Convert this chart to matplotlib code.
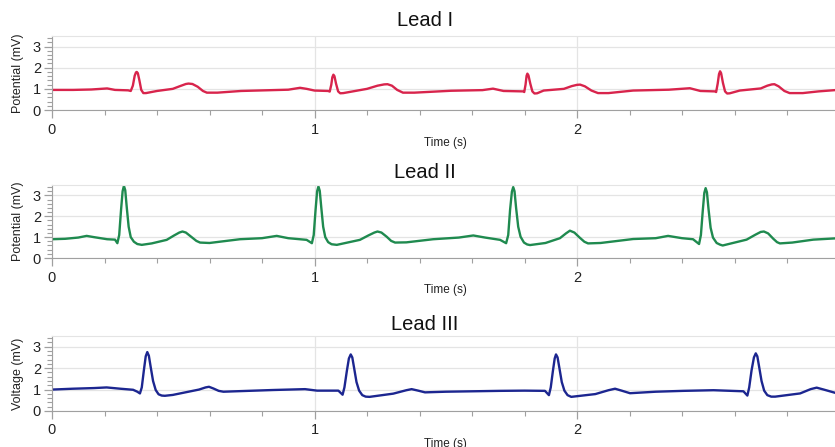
import matplotlib
matplotlib.use("Agg")
import matplotlib.pyplot as plt
from matplotlib.ticker import MultipleLocator, FixedLocator

plt.rcParams['font.family'] = ['Liberation Sans', 'DejaVu Sans']

# ---------------- data ----------------
lead1_t = [0.00, 0.08, 0.15, 0.21, 0.24, 0.29, 0.300, 0.308, 0.315, 0.320, 0.323, 0.327,
           0.333, 0.340, 0.348, 0.358,
           0.40, 0.46, 0.49, 0.51, 0.52, 0.535, 0.555, 0.575, 0.59, 0.63, 0.72, 0.84, 0.90,
           0.945, 0.97,
           1.00, 1.052, 1.058, 1.064, 1.068, 1.072, 1.076, 1.082, 1.090, 1.098, 1.11,
           1.20, 1.24, 1.265, 1.278, 1.295, 1.315, 1.337, 1.38, 1.52, 1.64, 1.68, 1.72,
           1.795, 1.799, 1.804, 1.808, 1.811, 1.815, 1.822, 1.830, 1.838, 1.848,
           1.873, 1.95, 1.98, 2.00, 2.012, 2.03, 2.055, 2.08, 2.12, 2.214, 2.35, 2.43, 2.47,
           2.525, 2.530, 2.536, 2.541, 2.545, 2.549, 2.556, 2.564, 2.572, 2.582,
           2.62, 2.70, 2.725, 2.742, 2.752, 2.768, 2.79, 2.81, 2.86, 2.92, 2.983]
lead1_v = [0.95, 0.95, 0.97, 1.02, 0.95, 0.93, 0.90, 1.15, 1.62, 1.78, 1.80, 1.74,
           1.40, 0.95, 0.80, 0.80,
           0.90, 1.00, 1.14, 1.23, 1.25, 1.23, 1.10, 0.90, 0.82, 0.82, 0.90, 0.94, 0.96,
           1.05, 1.00,
           0.92, 0.90, 0.87, 1.20, 1.55, 1.67, 1.60, 1.25, 0.88, 0.79, 0.80,
           1.00, 1.15, 1.21, 1.22, 1.15, 0.95, 0.82, 0.82, 0.91, 0.94, 1.01, 0.90,
           0.88, 0.85, 1.20, 1.62, 1.72, 1.64, 1.25, 0.88, 0.78, 0.79,
           0.92, 1.00, 1.13, 1.19, 1.20, 1.12, 0.92, 0.80, 0.80, 0.92, 0.96, 1.03, 0.90,
           0.88, 0.85, 1.25, 1.70, 1.83, 1.74, 1.28, 0.88, 0.78, 0.79,
           0.92, 1.02, 1.15, 1.21, 1.22, 1.12, 0.90, 0.80, 0.80, 0.88, 0.94]

lead2_t = [0.00, 0.05, 0.10, 0.132, 0.16, 0.21, 0.24, 0.249, 0.256, 0.263, 0.269, 0.274,
           0.279, 0.285, 0.292, 0.300, 0.312, 0.325, 0.342, 0.38, 0.437, 0.465, 0.485,
           0.497, 0.51, 0.53, 0.55, 0.564, 0.60,
           0.716, 0.80, 0.856, 0.90, 0.97, 0.99, 0.997, 1.004, 1.010, 1.015, 1.020, 1.026,
           1.033, 1.041, 1.052, 1.065, 1.085, 1.173, 1.205, 1.228, 1.240, 1.255, 1.275,
           1.292, 1.307, 1.35, 1.452, 1.55, 1.605, 1.65, 1.707,
           1.73, 1.738, 1.745, 1.752, 1.757, 1.762, 1.768, 1.776, 1.785, 1.798, 1.810, 1.821,
           1.88, 1.935, 1.958, 1.973, 1.99, 2.01, 2.028, 2.042, 2.09, 2.214, 2.30, 2.347,
           2.40, 2.442,
           2.465, 2.472, 2.479, 2.485, 2.490, 2.495, 2.501, 2.509, 2.518, 2.532, 2.545,
           2.555, 2.646, 2.68, 2.700, 2.712, 2.728, 2.748, 2.762, 2.773, 2.82, 2.90, 2.983]
lead2_v = [0.90, 0.92, 0.98, 1.06, 1.00, 0.90, 0.88, 0.71, 1.10, 2.30, 3.20, 3.46,
           3.25, 2.40, 1.50, 1.00, 0.78, 0.67, 0.63, 0.70, 0.87, 1.08, 1.22,
           1.27, 1.22, 1.02, 0.82, 0.74, 0.72,
           0.90, 0.95, 1.06, 0.95, 0.87, 0.71, 1.10, 2.30, 3.20, 3.43, 3.22, 2.40,
           1.50, 1.00, 0.76, 0.66, 0.63, 0.87, 1.08, 1.22, 1.27, 1.22, 1.02,
           0.82, 0.74, 0.75, 0.90, 0.98, 1.08, 0.98, 0.87,
           0.71, 1.10, 2.30, 3.18, 3.40, 3.20, 2.40, 1.50, 1.02, 0.74, 0.65, 0.62,
           0.72, 0.95, 1.18, 1.31, 1.22, 0.98, 0.78, 0.70, 0.72, 0.91, 0.95, 1.06,
           0.95, 0.90,
           0.67, 1.10, 2.25, 3.12, 3.35, 3.15, 2.35, 1.45, 0.98, 0.72, 0.64,
           0.60, 0.88, 1.12, 1.25, 1.27, 1.18, 0.92, 0.76, 0.70, 0.74, 0.88, 0.94]

lead3_t = [0.00, 0.08, 0.16, 0.208, 0.26, 0.309, 0.325, 0.335, 0.342, 0.350, 0.357, 0.363,
           0.369, 0.376, 0.385, 0.395, 0.406, 0.418, 0.430, 0.46, 0.50, 0.56, 0.585, 0.598,
           0.615, 0.635, 0.653, 0.70, 0.843,
           0.964, 1.01, 1.091, 1.107, 1.114, 1.123, 1.131, 1.138, 1.144, 1.151, 1.160,
           1.170, 1.182, 1.195, 1.210,
           1.30, 1.35, 1.37, 1.395, 1.421, 1.50, 1.707, 1.80, 1.878,
           1.893, 1.900, 1.908, 1.915, 1.920, 1.926, 1.933, 1.942, 1.952, 1.964, 1.978,
           2.07, 2.12, 2.145, 2.17, 2.202, 2.30,
           2.405, 2.52, 2.634, 2.649, 2.656, 2.665, 2.674, 2.681, 2.687, 2.694, 2.703,
           2.713, 2.725, 2.740, 2.755,
           2.85, 2.89, 2.913, 2.94, 2.983]
lead3_v = [1.00, 1.04, 1.07, 1.10, 1.04, 0.99, 0.90, 0.82, 1.10, 1.90, 2.55, 2.75,
           2.58, 2.05, 1.40, 0.98, 0.78, 0.72, 0.71, 0.75, 0.85, 1.00, 1.10, 1.13,
           1.05, 0.94, 0.90, 0.92, 0.98,
           1.02, 0.95, 0.95, 0.76, 1.10, 1.85, 2.45, 2.64, 2.50, 2.00, 1.35,
           0.95, 0.74, 0.67, 0.66,
           0.81, 0.97, 1.02, 0.95, 0.87, 0.90, 0.94, 0.95, 0.94,
           0.74, 1.10, 1.85, 2.45, 2.64, 2.50, 2.00, 1.35, 0.95, 0.74, 0.66,
           0.79, 0.97, 1.04, 0.95, 0.83, 0.90,
           0.94, 0.97, 0.92, 0.72, 1.10, 1.90, 2.50, 2.69, 2.55, 2.05, 1.40,
           0.95, 0.74, 0.67, 0.67,
           0.82, 1.02, 1.09, 1.00, 0.85]

titles = ["Lead I", "Lead II", "Lead III"]
ylabels = ["Potential (mV)", "Potential (mV)", "Voltage (mV)"]
xlabel = "Time (s)"
x_ticks = [0, 1, 2]
y_ticks = [0, 1, 2, 3]

# ---------------- figure ----------------
W, H = 835, 447
fig = plt.figure(figsize=(W / 100, H / 100), dpi=100)

colors = ["#d8244c", "#1f8a4f", "#1c2690"]
panels = [  # (top px, bottom px, title y px)
    (36, 110, 20),
    (185, 258, 172),
    (336, 411, 325),
]
series = [(lead1_t, lead1_v), (lead2_t, lead2_v), (lead3_t, lead3_v)]

left_px = 52
x_right = (W - left_px) / 262.5

for i, ((top, bot, ty), (t, v)) in enumerate(zip(panels, series)):
    ax = fig.add_axes([left_px / W, 1 - bot / H, 1 - left_px / W, (bot - top) / H])
    ax.plot(t, v, color=colors[i], lw=1.7, solid_joinstyle='round')
    ax.set_xlim(0, x_right)
    ax.set_ylim(0, 3.5)
    ax.xaxis.set_major_locator(FixedLocator(x_ticks))
    ax.xaxis.set_minor_locator(MultipleLocator(0.2))
    ax.yaxis.set_major_locator(FixedLocator(y_ticks))
    ax.yaxis.set_minor_locator(MultipleLocator(0.2))
    ax.grid(True, which='major', color='#e4e4e4', lw=0.9)
    ax.set_axisbelow(True)
    ax.spines['right'].set_visible(False)
    ax.spines['top'].set_color('#e4e4e4')
    ax.spines['left'].set_color('#a0a0a0')
    ax.spines['bottom'].set_color('#a0a0a0')
    ax.tick_params(axis='both', which='major', length=6, color='#a0a0a0',
                   labelsize=10.5, labelcolor='#222222', width=0.9)
    ax.tick_params(axis='both', which='minor', length=3.5, color='#a0a0a0', width=0.8)
    ax.tick_params(axis='x', pad=3)
    ax.tick_params(axis='y', pad=2)
    ax.set_ylabel(ylabels[i], fontsize=9, color='#222222', labelpad=6)
    ax.set_xlabel(xlabel, fontsize=8.5, color='#222222', labelpad=4)
    ax.xaxis.set_label_coords((445 - left_px) / (W - left_px), -0.36)
    fig.text(425 / W, 1 - ty / H, titles[i], fontsize=14.5, ha='center', va='center',
             color='#111111')

fig.savefig("out.png", dpi=100)
